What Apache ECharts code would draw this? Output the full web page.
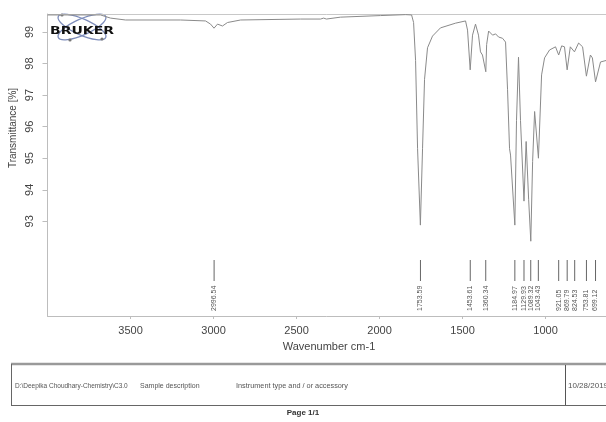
<!DOCTYPE html>
<html>
<head>
<meta charset="utf-8">
<script src="https://cdn.jsdelivr.net/npm/echarts@6/dist/echarts.min.js"></script>
<style>
  html,body{margin:0;padding:0;background:#fff;}
  #chart{width:606px;height:422px;}
</style>
</head>
<body>
<div id="chart"></div>
<script>
// spectrum (wavenumber cm-1 / transmittance %)
const wavenumber = [4000,3681,3620,3530,3199,3048,3018,2997,2976,2946,2916,2837,2476,2355,2337,2320,2235,1994,1843,1807,
  1795,1783,1771,1754,1741,1729,1711,1681,1633,1542,1482,1470,1454,1440,1422,1404,1392,1380,1360,1355,
  1343,1319,1301,1283,1259,1241,1229,1217,1211,1185,1175,1163,1151,1130,1117,1102,1089,1078,1066,1043,
  1024,1006,976,940,921,903,886,870,851,826,801,777,754,730,718,699,669,633,600];
const transmittance = [99.54,99.54,99.44,99.38,99.38,99.35,99.25,99.12,99.25,99.19,99.30,99.38,99.41,99.41,99.44,99.41,99.47,99.52,99.55,99.54,
  99.30,98.10,95.30,92.88,95.30,97.50,98.50,98.87,99.13,99.28,99.35,99.06,97.80,98.90,99.25,98.90,98.37,98.27,97.74,98.60,
  99.03,98.90,98.94,98.84,98.80,98.68,97.17,95.30,95.10,92.88,96.20,98.20,96.20,93.64,95.53,93.70,92.37,94.90,96.48,95.00,
  97.64,98.18,98.43,98.53,98.27,98.56,98.53,97.80,98.53,98.37,98.65,98.53,97.60,98.27,98.18,97.42,98.05,98.10,98.05];

// peak picks
const peakWavenumbers = [2996.54,1753.59,1453.61,1360.34,1184.97,1129.93,1089.32,1043.43,921.05,869.79,824.53,753.81,699.12];
const peakLabels = ['2996.54','1753.59','1453.61','1360.34','1184.97','1129.93','1089.32','1043.43','921.05','869.79','824.53','753.81','699.12'];

// axis ticks
const xTicks = [3500,3000,2500,2000,1500,1000];
const yTicks = [93,94,95,96,97,98,99];

const FONT = '"Liberation Sans", Arial, sans-serif';
const chart = echarts.init(document.getElementById('chart'));

const spectrum = wavenumber.map((w,i)=>[w, transmittance[i]]);
const peaks = peakWavenumbers.map(w=>[w, 90]);

// the print is cropped on the right, so the axis stops near 636 cm-1
const xMin = 636, xMax = 4000;

chart.setOption({
  animation:false,
  backgroundColor:'#fff',
  grid:{left:47.5, top:14, right:0, bottom:106},
  xAxis:[{
    type:'value', inverse:true, min:xMin, max:xMax,
    splitLine:{show:false},
    axisLine:{lineStyle:{color:'#bdbdbd'}},
    axisTick:{customValues:xTicks, length:3, lineStyle:{color:'#bdbdbd'}},
    axisLabel:{customValues:xTicks, margin:9, fontSize:11, color:'#444', fontFamily:FONT, formatter:v=>String(v)}
  },{
    // top frame line
    type:'value', position:'top', inverse:true, min:xMin, max:xMax,
    splitLine:{show:false}, axisTick:{show:false}, axisLabel:{show:false},
    axisLine:{lineStyle:{color:'#c8c8c8'}}
  }],
  yAxis:{
    type:'value', min:90, max:99.57,
    splitLine:{show:false},
    axisLine:{show:true, lineStyle:{color:'#bdbdbd'}},
    axisTick:{show:true, customValues:yTicks, length:5, lineStyle:{color:'#bdbdbd'}},
    axisLabel:{customValues:yTicks, rotate:90, margin:12, fontSize:11, color:'#444', fontFamily:FONT, formatter:v=>String(v)}
  },
  series:[
    {
      type:'line', data:spectrum, showSymbol:false, symbol:'none',
      lineStyle:{color:'#8a8a8a', width:1}
    },
    {
      type:'custom', data:peaks, clip:false,
      renderItem(params, api){
        const p = api.coord([api.value(0), 90]);
        const x = p[0], yb = p[1];
        return {type:'group', children:[
          {type:'line', shape:{x1:x, y1:yb-56, x2:x, y2:yb-35}, style:{stroke:'#666', lineWidth:1}},
          {type:'text', x:x, y:yb-5, rotation:Math.PI/2,
            style:{text:peakLabels[params.dataIndex], fontSize:7, fill:'#555', align:'left', verticalAlign:'middle', fontFamily:FONT}}
        ]};
      }
    }
  ],
  graphic:[
    // axis names
    {type:'text', x:329, y:347, style:{text:'Wavenumber cm-1', fontSize:11, fill:'#444', fontFamily:FONT, align:'center', verticalAlign:'middle'}},
    {type:'text', x:13, y:128, rotation:Math.PI/2, style:{text:'Transmittance [%]', fontSize:10, fill:'#444', fontFamily:FONT, align:'center', verticalAlign:'middle'}},
    // logo
    {type:'ellipse', shape:{cx:0, cy:0, rx:26, ry:8}, x:82, y:27, rotation:0.42, style:{fill:'none', stroke:'#7d8cba', lineWidth:1.3}},
    {type:'ellipse', shape:{cx:0, cy:0, rx:26, ry:8}, x:82, y:27, rotation:-0.42, style:{fill:'none', stroke:'#7d8cba', lineWidth:1.3}},
    {type:'circle', shape:{cx:62, cy:15, r:1.6}, style:{fill:'#777'}},
    {type:'circle', shape:{cx:102, cy:39, r:1.6}, style:{fill:'#777'}},
    {type:'circle', shape:{cx:70, cy:40, r:1.6}, style:{fill:'#777'}},
    {type:'text', x:50, y:31, scaleX:1.4, style:{text:'BRUKER', fontSize:10, fontWeight:'bold', fill:'#111', fontFamily:'"DejaVu Sans", sans-serif', align:'left', verticalAlign:'middle'}},
    // footer box
    {type:'line', shape:{x1:11, y1:364, x2:620, y2:364}, style:{stroke:'#9a9a9a', lineWidth:2.5}},
    {type:'line', shape:{x1:11.5, y1:364, x2:11.5, y2:405}, style:{stroke:'#666', lineWidth:1}},
    {type:'line', shape:{x1:11, y1:405.5, x2:620, y2:405.5}, style:{stroke:'#666', lineWidth:1}},
    {type:'line', shape:{x1:565.5, y1:365, x2:565.5, y2:405}, style:{stroke:'#555', lineWidth:1}},
    {type:'text', x:15, y:386, style:{text:'D:\\Deepika Choudhary-Chemistry\\C3.0', fontSize:6.5, fill:'#555', fontFamily:FONT, verticalAlign:'middle'}},
    {type:'text', x:140, y:386, style:{text:'Sample description', fontSize:7, fill:'#555', fontFamily:FONT, verticalAlign:'middle'}},
    {type:'text', x:236, y:386, style:{text:'Instrument type and / or accessory', fontSize:7.3, fill:'#555', fontFamily:FONT, verticalAlign:'middle'}},
    {type:'text', x:568, y:386, style:{text:'10/28/2019', fontSize:8, fill:'#555', fontFamily:FONT, verticalAlign:'middle'}},
    {type:'text', x:303, y:413, style:{text:'Page 1/1', fontSize:8, fontWeight:'bold', fill:'#333', fontFamily:FONT, align:'center', verticalAlign:'middle'}}
  ]
});
</script>
</body>
</html>
